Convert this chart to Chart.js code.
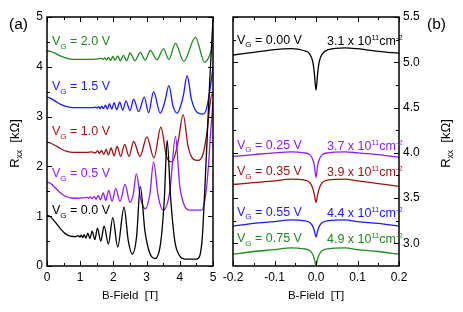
<!DOCTYPE html>
<html>
<head>
<meta charset="utf-8">
<script src="https://cdn.jsdelivr.net/npm/chart.js@4"></script>
<style>
body{margin:0;background:#fff;}
#wrap{position:relative;width:463px;height:312px;}
canvas{position:absolute;left:0;top:0;}
</style>
</head>
<body>
<div id="wrap">
<canvas id="left" width="463" height="312"></canvas>
<canvas id="right" width="463" height="312"></canvas>
</div>
<script>
// ---- panel (a): Rxx vs B, 0..5 T ----
const fieldA00 = [0,0.1,0.25,0.4,0.55,0.7,0.85,0.95,0.99,1.03,1.08,1.12,1.17,1.23,1.29,1.36,1.44,1.52,1.62,1.72,1.85,1.98,2.13,2.32,2.45,2.57,2.7,2.81,2.95,3.1,3.26,3.42,3.53,3.62,3.72,3.85,4.0,4.15,4.5,4.6,4.68,4.75,4.82,4.9,5.0];
const rxxA00   = [1.02,0.99,0.88,0.75,0.65,0.6,0.59,0.61,0.58,0.62,0.57,0.63,0.56,0.66,0.55,0.7,0.53,0.76,0.5,0.8,0.44,0.97,0.38,1.18,0.5,0.24,0.6,1.6,0.7,0.25,0.15,0.45,1.3,2.52,1.4,0.5,0.2,0.14,0.14,0.2,0.6,1.5,2.5,3.7,4.95];

const fieldA05 = [0,0.1,0.25,0.4,0.55,0.7,0.9,1.1,1.22,1.26,1.31,1.36,1.42,1.48,1.54,1.61,1.69,1.77,1.86,1.96,2.07,2.2,2.35,2.5,2.6,2.69,2.82,2.96,3.1,3.21,3.35,3.5,3.7,3.87,4.0,4.15,4.3,4.65,4.75,4.85,4.93,5.0];
const rxxA05   = [1.69,1.66,1.57,1.47,1.4,1.37,1.36,1.37,1.38,1.36,1.39,1.35,1.4,1.34,1.42,1.33,1.47,1.32,1.52,1.3,1.56,1.3,1.64,1.28,1.45,1.85,1.35,1.15,1.45,2.09,1.4,1.12,1.5,2.6,1.6,1.2,1.12,1.12,1.3,1.9,2.7,3.3];

const fieldA10 = [0,0.1,0.25,0.4,0.6,0.8,1.0,1.2,1.35,1.44,1.53,1.58,1.64,1.71,1.78,1.85,1.93,2.02,2.11,2.22,2.34,2.47,2.61,2.8,3.01,3.22,3.43,3.6,3.77,3.95,4.1,4.25,4.4,4.55,4.7,4.82,4.9,4.97,5.0];
const rxxA10   = [2.49,2.47,2.42,2.36,2.3,2.28,2.28,2.28,2.29,2.27,2.31,2.26,2.32,2.24,2.34,2.23,2.37,2.21,2.4,2.2,2.44,2.2,2.5,2.2,2.59,2.17,2.79,2.2,2.09,2.5,3.04,2.4,2.15,2.12,2.25,2.7,3.2,3.45,3.42];

const fieldA15 = [0,0.1,0.25,0.4,0.6,0.8,1.0,1.2,1.4,1.47,1.51,1.56,1.6,1.65,1.7,1.76,1.82,1.88,1.95,2.02,2.1,2.19,2.28,2.38,2.5,2.61,2.76,2.93,3.06,3.21,3.41,3.55,3.67,3.8,3.92,4.1,4.22,4.35,4.5,4.7,4.8,4.9,5.0];
const rxxA15   = [3.39,3.37,3.31,3.25,3.2,3.18,3.18,3.18,3.18,3.19,3.17,3.2,3.16,3.21,3.16,3.23,3.15,3.26,3.15,3.28,3.14,3.29,3.13,3.31,3.12,3.35,3.1,3.39,3.08,3.5,3.07,3.3,3.62,3.2,3.07,3.4,3.82,3.35,3.1,3.05,3.15,3.5,3.99];

const fieldA20 = [0,0.1,0.25,0.4,0.6,0.8,1.0,1.2,1.4,1.55,1.64,1.69,1.74,1.8,1.85,1.92,1.98,2.05,2.13,2.21,2.3,2.4,2.5,2.65,2.81,2.96,3.11,3.31,3.51,3.67,3.87,4.12,4.47,4.75,4.88,5.0];
const rxxA20   = [4.32,4.31,4.27,4.22,4.17,4.15,4.15,4.15,4.15,4.16,4.17,4.15,4.18,4.14,4.19,4.13,4.21,4.13,4.22,4.12,4.23,4.12,4.28,4.12,4.29,4.13,4.33,4.14,4.36,4.15,4.47,4.11,4.59,4.09,4.2,4.45];

const gateA = ["0.0","0.5","1.0","1.5","2.0"];

// ---- panel (b): Rxx vs B, -0.2..0.2 T ----
const fieldB = [-0.2,-0.15,-0.1,-0.06,-0.03,-0.015,-0.008,-0.004,0,0.004,0.008,0.015,0.03,0.07,0.1,0.15,0.2];
const rxxB000 = [5.08,5.11,5.14,5.15,5.13,5.09,5.01,4.88,4.69,4.88,5.01,5.09,5.14,5.16,5.15,5.12,5.1];
const rxxB025 = [3.96,3.98,4.0,4.01,4.0,3.98,3.93,3.86,3.73,3.86,3.93,3.98,4.0,4.01,4.0,3.98,3.95];
const rxxB035 = [3.65,3.67,3.69,3.71,3.7,3.67,3.61,3.54,3.45,3.54,3.61,3.67,3.7,3.71,3.69,3.66,3.63];
const rxxB055 = [3.19,3.22,3.24,3.26,3.25,3.23,3.19,3.14,3.07,3.14,3.19,3.23,3.25,3.26,3.24,3.22,3.19];
const rxxB075 = [2.88,2.91,2.93,2.95,2.94,2.92,2.88,2.83,2.76,2.83,2.88,2.92,2.94,2.95,2.93,2.91,2.88];

const gateB = ["0.00","0.25","0.35","0.55","0.75"];
const densB = ["3.1","3.7","3.9","4.4","4.9"];

// ticks
const ticksAx = [0,1,2,3,4,5];
const minorAx = [0.5,1.5,2.5,3.5,4.5];
const ticksAy = [0,1,2,3,4,5];
const minorAy = [0.5,1.5,2.5,3.5,4.5];
const ticksBx = [-0.2,-0.1,0,0.1,0.2];
const minorBx = [-0.15,-0.05,0.05,0.15];
const ticksBy = [3.0,3.5,4.0,4.5,5.0,5.5];
const minorBy = [3.25,3.75,4.25,4.75,5.25];

const FONT = '"Liberation Sans", Arial, Helvetica, sans-serif';
Chart.defaults.font.family = FONT;

const cBlack = '#000000', cPurple = '#8c1cff', cRed = '#9b1212', cBlue = '#1a1aff', cGreen = '#1c8a1c';

function pts(xs, ys) { return xs.map((v, i) => ({x: v, y: ys[i]})); }
function line(xs, ys, color) {
  return {data: pts(xs, ys), borderColor: color, borderWidth: 1.3, pointRadius: 0,
          fill: false, cubicInterpolationMode: 'monotone'};
}

function richText(ctx, x, y, parts, color, center) {
  let w = 0;
  parts.forEach(p => { ctx.font = p[1] + 'px ' + FONT; w += ctx.measureText(p[0]).width; });
  let cx = center ? x - w / 2 : x;
  ctx.fillStyle = color;
  ctx.textAlign = 'left';
  ctx.textBaseline = 'alphabetic';
  parts.forEach(p => {
    ctx.font = p[1] + 'px ' + FONT;
    ctx.fillText(p[0], cx, y + p[2]);
    cx += ctx.measureText(p[0]).width;
  });
}

function frame(chart, xMaj, xMin, yMaj, yMin) {
  const {ctx, chartArea: a} = chart;
  const sx = chart.scales.x, sy = chart.scales.y;
  ctx.save();
  ctx.strokeStyle = '#000';
  ctx.lineWidth = 1;
  ctx.beginPath();
  const xt = (v, len) => {
    const p = Math.round(sx.getPixelForValue(v)) + 0.5;
    ctx.moveTo(p, a.bottom); ctx.lineTo(p, a.bottom - len);
    ctx.moveTo(p, a.top); ctx.lineTo(p, a.top + len);
  };
  const yt = (v, len) => {
    const p = Math.round(sy.getPixelForValue(v)) + 0.5;
    ctx.moveTo(a.left, p); ctx.lineTo(a.left + len, p);
    ctx.moveTo(a.right, p); ctx.lineTo(a.right - len, p);
  };
  xMaj.forEach(v => xt(v, 5)); xMin.forEach(v => xt(v, 3));
  yMaj.forEach(v => yt(v, 5)); yMin.forEach(v => yt(v, 3));
  ctx.stroke();
  ctx.lineWidth = 1.5;
  ctx.strokeRect(a.left, a.top, a.right - a.left, a.bottom - a.top);
  ctx.restore();
}

function yTitle(ctx, x, y) {
  ctx.save();
  ctx.translate(x, y);
  ctx.rotate(-Math.PI / 2);
  richText(ctx, 0, 0, [["R", 13, 0], ["xx", 8.5, 3], ["  [k\u03a9]", 13, 0]], '#000', true);
  ctx.restore();
}

function scaleCfg(min, max, tickVals, pos, fmt, size) {
  return {
    type: 'linear', min: min, max: max, position: pos,
    grid: {display: false, drawTicks: false},
    border: {display: false},
    ticks: {color: '#000', font: {size: 12}, autoSkip: false, maxRotation: 0,
            padding: pos === 'bottom' ? 4 : 4, callback: fmt},
    afterBuildTicks: s => { s.ticks = tickVals.map(v => ({value: v})); },
    afterFit: s => { if (pos === 'bottom') s.height = size; else s.width = size; }
  };
}

const leftPlugin = {
  id: 'leftDeco',
  afterDraw(chart) {
    const ctx = chart.ctx;
    frame(chart, ticksAx, minorAx, ticksAy, minorAy);
    const cols = [cBlack, cPurple, cRed, cBlue, cGreen];
    const base = [214, 177, 135, 90, 45];
    gateA.forEach((g, i) => {
      richText(ctx, 52, base[i], [["V", 12.5, 0], ["G", 8, 3.5], [" = " + g + " V", 12.5, 0]], cols[i]);
    });
    richText(ctx, 130, 299, [["B-Field  [T]", 11.5, 0]], '#000', true);
    richText(ctx, 9, 29, [["(a)", 15.5, 0]], '#000');
    yTitle(ctx, 18.5, 143.5);
  }
};

const rightPlugin = {
  id: 'rightDeco',
  afterDraw(chart) {
    const ctx = chart.ctx;
    frame(chart, ticksBx, minorBx, ticksBy, minorBy);
    const cols = [cBlack, cPurple, cRed, cBlue, cGreen];
    const base = [43.5, 148.5, 175, 215.5, 242];
    gateB.forEach((g, i) => {
      richText(ctx, 237, base[i], [["V", 12.5, 0], ["G", 8, 3.5], [" = " + g + " V", 12.5, 0]], cols[i]);
      richText(ctx, 327, base[i] + 1, [[densB[i] + " x 10", 12.5, 0], ["11", 7.5, -5], ["cm", 12.5, 0], ["-2", 7.5, -5]], cols[i]);
    });
    richText(ctx, 316, 299, [["B-Field  [T]", 11.5, 0]], '#000', true);
    richText(ctx, 427, 29, [["(b)", 15.5, 0]], '#000');
    yTitle(ctx, 450, 143.5);
  }
};

new Chart(document.getElementById('left'), {
  type: 'line',
  data: {
    datasets: [
      line(fieldA00, rxxA00, cBlack),
      line(fieldA05, rxxA05, cPurple),
      line(fieldA10, rxxA10, cRed),
      line(fieldA15, rxxA15, cBlue),
      line(fieldA20, rxxA20, cGreen)
    ]
  },
  options: {
    responsive: false, animation: false, devicePixelRatio: 1,
    layout: {padding: {left: 0, right: 250, top: 17, bottom: 0}},
    plugins: {legend: {display: false}, tooltip: {enabled: false}},
    scales: {
      x: scaleCfg(0, 5, ticksAx, 'bottom', v => String(v), 46),
      y: scaleCfg(0, 5, ticksAy, 'left', v => String(v), 47)
    }
  },
  plugins: [leftPlugin]
});

new Chart(document.getElementById('right'), {
  type: 'line',
  data: {
    datasets: [
      line(fieldB, rxxB000, cBlack),
      line(fieldB, rxxB025, cPurple),
      line(fieldB, rxxB035, cRed),
      line(fieldB, rxxB055, cBlue),
      line(fieldB, rxxB075, cGreen)
    ]
  },
  options: {
    responsive: false, animation: false, devicePixelRatio: 1,
    layout: {padding: {left: 233, right: 0, top: 17, bottom: 0}},
    plugins: {legend: {display: false}, tooltip: {enabled: false}},
    scales: {
      x: scaleCfg(-0.2, 0.2, ticksBx, 'bottom', v => v.toFixed(1), 46),
      y: scaleCfg(2.75, 5.5, ticksBy, 'right', v => v.toFixed(1), 64)
    }
  },
  plugins: [rightPlugin]
});
</script>
</body>
</html>
